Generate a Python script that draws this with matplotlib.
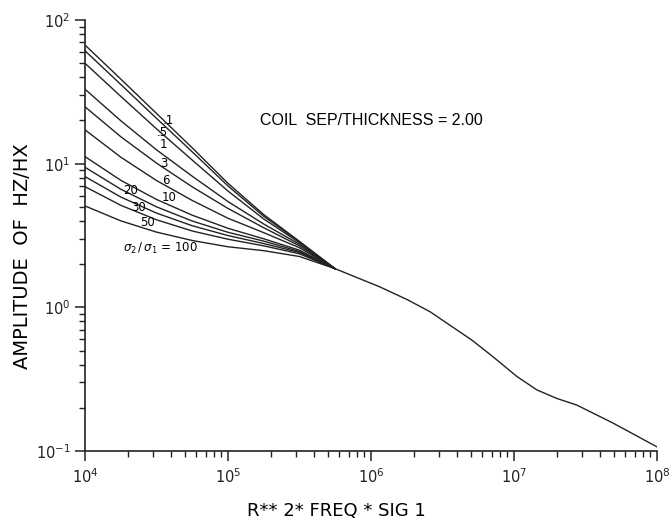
import numpy as np
import matplotlib
matplotlib.use("Agg")
import matplotlib.pyplot as plt
from matplotlib.ticker import LogLocator, NullFormatter

# R**2*FREQ*SIG1 sample points for the separated part of the curves
x_fan = [1e4, 1.78e4, 3.16e4, 5.62e4, 1e5, 1.78e5, 3.16e5, 5.6e5]

# amplitude of Hz/Hx, one list per conductivity ratio
amp_a = [67.0, 38.8, 22.4, 12.9, 7.30, 4.42, 2.88, 1.86]
amp_01 = [61.1, 35.6, 20.7, 12.1, 7.00, 4.30, 2.86, 1.86]
amp_05 = [50.0, 29.4, 17.5, 10.6, 6.45, 4.12, 2.82, 1.86]
amp_1 = [33.0, 19.9, 12.5, 8.18, 5.45, 3.80, 2.75, 1.86]
amp_3 = [24.9, 15.4, 10.1, 6.90, 4.88, 3.58, 2.68, 1.86]
amp_6 = [17.2, 11.1, 7.64, 5.55, 4.17, 3.31, 2.60, 1.86]
amp_10 = [11.2, 7.66, 5.64, 4.38, 3.55, 3.00, 2.50, 1.86]
amp_20 = [9.44, 6.64, 5.01, 3.99, 3.33, 2.89, 2.45, 1.86]
amp_30 = [8.13, 5.86, 4.53, 3.70, 3.16, 2.78, 2.41, 1.86]
amp_50 = [6.92, 5.13, 4.07, 3.40, 2.98, 2.68, 2.36, 1.86]
amp_100 = [5.08, 4.00, 3.34, 2.92, 2.64, 2.48, 2.26, 1.86]

fan = [amp_a, amp_01, amp_05, amp_1, amp_3, amp_6, amp_10,
       amp_20, amp_30, amp_50, amp_100]

# common tail where all curves coincide
x_tail = [5.6e5, 1.15e6, 1.8e6, 2.6e6, 5.1e6, 7.2e6, 1.05e7, 1.45e7,
          2.0e7, 2.75e7, 4.9e7, 1e8]
amp_tail = [1.86, 1.39, 1.13, 0.93, 0.59, 0.45, 0.33, 0.266,
            0.232, 0.209, 0.157, 0.107]

plt.rcParams['font.family'] = ['DejaVu Sans']
fig = plt.figure(figsize=(6.72, 5.27), dpi=100)
ax = fig.add_axes([0.1265, 0.1442, 0.851, 0.8178])

for amp in fan:
    ax.plot(x_fan, amp, color='#222222', lw=1.0)
ax.plot(x_tail, amp_tail, color='#222222', lw=1.0)

ax.set_xscale('log')
ax.set_yscale('log')
ax.set_xlim(1e4, 1e8)
ax.set_ylim(1e-1, 1e2)

for s in ['top', 'right']:
    ax.spines[s].set_visible(False)
for s in ['left', 'bottom']:
    ax.spines[s].set_linewidth(1.2)
    ax.spines[s].set_color('#222222')

ax.xaxis.set_minor_locator(LogLocator(base=10, subs=np.arange(2, 10)))
ax.yaxis.set_minor_locator(LogLocator(base=10, subs=np.arange(2, 10)))
ax.xaxis.set_minor_formatter(NullFormatter())
ax.yaxis.set_minor_formatter(NullFormatter())
ax.tick_params(which='major', direction='out', length=7, width=1.1,
               labelsize=10.5, colors='#222222')
ax.tick_params(which='minor', direction='out', length=4, width=1.0,
               colors='#222222')
ax.tick_params(axis='x', which='major', pad=5)

fig.text(0.033, 0.514, 'AMPLITUDE  OF  HZ/HX', fontsize=14, rotation=90,
         ha='center', va='center')
fig.text(0.50, 0.03, 'R** 2* FREQ * SIG 1', fontsize=13, ha='center',
         va='center')

ax.text(1.68e5, 20.1, 'COIL  SEP/THICKNESS = 2.00', fontsize=11.5,
        fontfamily='Liberation Sans', va='center')

# curve labels
lab_kw = dict(fontsize=8.5, ha='center', va='center')
ax.text(3.8e4, 20.1, '.1', **lab_kw)
ax.text(3.45e4, 16.6, '.5', **lab_kw)
ax.text(3.51e4, 13.5, '1', **lab_kw)
ax.text(3.56e4, 10.1, '3', **lab_kw)
ax.text(3.68e4, 7.67, '6', **lab_kw)
ax.text(3.86e4, 5.85, '10', **lab_kw)
ax.text(2.07e4, 6.53, '20', **lab_kw)
ax.text(2.35e4, 4.98, '30', **lab_kw)
ax.text(2.72e4, 3.91, '50', **lab_kw)
ax.text(3.34e4, 2.58, r'$\sigma_2\,/\,\sigma_1$ = 100', **lab_kw)

fig.savefig('out.png', dpi=100)
